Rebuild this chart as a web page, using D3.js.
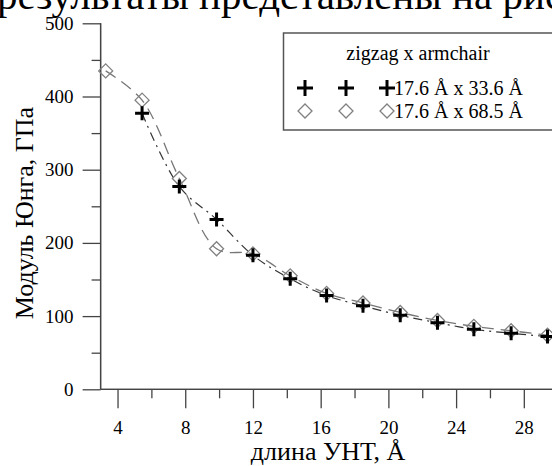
<!DOCTYPE html>
<html><head><meta charset="utf-8">
<script src="https://cdn.jsdelivr.net/npm/d3@7"></script>
<style>body{margin:0;background:#fff}svg{display:block}svg text{font-family:"Liberation Serif","Times New Roman",serif !important}</style>
</head><body><svg id="c" width="552" height="466"></svg>
<script>
const lengths = [3.3, 5.45, 7.65, 9.85, 12.0, 14.2, 16.35, 18.5, 20.7, 22.9, 25.05, 27.25, 29.4];
const seriesCross = [null, 377, 277, 232, 183, 151, 128, 114, 101, 91, 82, 76.5, 72];
const seriesDiamond = [435, 395, 288, 192, 185, 155, 131, 118, 105, 94, 86, 80, 74];
const seriesNames = ["17.6 Å x 33.6 Å", "17.6 Å x 68.5 Å"];
const legendTitle = "zigzag x armchair";
const xTicks = [4, 8, 12, 16, 20, 24, 28];
const xMinor = [6, 10, 14, 18, 22, 26, 30];
const yTicks = [0, 100, 200, 300, 400, 500];
const yMinor = [50, 150, 250, 350, 450];
const xTitle = "длина УНТ, Å";
const yTitle = "Модуль Юнга, ГПа";
const pageText = "результаты представлены на рис";

const FF = "'Liberation Serif', 'Times New Roman', serif";
const svg = d3.select("#c").style("font-family", FF);
const x = d3.scaleLinear().domain([3, 31]).range([100.6, 574.6]);
const y = d3.scaleLinear().domain([0, 500]).range([389.3, 23.3]);
const axisCol = "#444";

// page text (cropped, above the chart)
svg.append("text").attr("x", -3).attr("y", 8.5).attr("font-size", 41).attr("fill", "#000")
  .style("font-family", FF).text(pageText);

// y axis
const gy = svg.append("g").attr("transform", `translate(${x(3)},0)`);
gy.call(d3.axisLeft(y).tickValues(yTicks).tickSize(18).tickPadding(9).tickFormat(d3.format("d")));
gy.append("g").call(d3.axisLeft(y).tickValues(yMinor).tickSize(9).tickFormat(""));
gy.attr("font-family", null);
gy.selectAll("g").attr("font-family", null);
gy.selectAll(".domain").attr("stroke", axisCol).attr("stroke-width", 1.3).attr("d", `M0,${y(500)}V${y(0)}`);
gy.selectAll(".tick line").attr("stroke", axisCol).attr("stroke-width", 1.3);
gy.selectAll(".tick text").attr("font-size", 19).attr("fill", "#000").style("font-family", FF);

// x axis
const gx = svg.append("g").attr("transform", `translate(0,${y(0)})`);
gx.call(d3.axisBottom(x).tickValues(xTicks).tickSize(19).tickPadding(12).tickFormat(d3.format("d")));
gx.append("g").call(d3.axisBottom(x).tickValues(xMinor).tickSize(9).tickFormat(""));
gx.attr("font-family", null);
gx.selectAll("g").attr("font-family", null);
gx.selectAll(".domain").attr("stroke", axisCol).attr("stroke-width", 1.3).attr("d", `M${x(3)},0H${x(31)}`);
gx.selectAll(".tick line").attr("stroke", axisCol).attr("stroke-width", 1.3);
gx.selectAll(".tick text").attr("font-size", 19).attr("fill", "#000").style("font-family", FF);

// titles
svg.append("text").attr("x", 328).attr("y", 460).attr("text-anchor", "middle").attr("font-size", 26)
  .style("font-family", FF).text(xTitle);
svg.append("text").attr("transform", `translate(33,213) rotate(-90)`).attr("text-anchor", "middle").attr("font-size", 26)
  .style("font-family", FF).text(yTitle);

// lines
const mk = arr => lengths.map((l, i) => ({x: l, y: arr[i]})).filter(d => d.y != null);
const dCross = mk(seriesCross), dDiam = mk(seriesDiamond);
const line = d3.line().x(d => x(d.x)).y(d => y(d.y)).curve(d3.curveCatmullRom);
svg.append("path").attr("d", line(dDiam)).attr("fill", "none").attr("stroke", "#777").attr("stroke-width", 1.3).attr("stroke-dasharray", "12,7");
svg.append("path").attr("d", line(dCross)).attr("fill", "none").attr("stroke", "#333").attr("stroke-width", 1.2).attr("stroke-dasharray", "9,5,2,5");

// markers
const crossPath = s => `M${-s},0H${s}M0,${-s}V${s}`;
const diamPath = s => `M0,${-s}L${s},0L0,${s}L${-s},0Z`;
svg.append("g").selectAll("path").data(dDiam).join("path")
  .attr("transform", d => `translate(${x(d.x)},${y(d.y)})`).attr("d", diamPath(7))
  .attr("fill", "none").attr("stroke", "#808080").attr("stroke-width", 1.3);
svg.append("g").selectAll("path").data(dCross).join("path")
  .attr("transform", d => `translate(${x(d.x)},${y(d.y)})`).attr("d", crossPath(7))
  .attr("fill", "none").attr("stroke", "#000").attr("stroke-width", 3);

// legend
const lg = svg.append("g");
lg.append("rect").attr("x", 283.5).attr("y", 33).attr("width", 300).attr("height", 97)
  .attr("fill", "#fff").attr("stroke", "#555").attr("stroke-width", 1.5);
lg.append("text").attr("x", 418).attr("y", 60).attr("text-anchor", "middle").attr("font-size", 20)
  .style("font-family", FF).text(legendTitle);
const rows = [{name: seriesNames[0], type: "cross", cy: 88}, {name: seriesNames[1], type: "diam", cy: 111}];
const mx = [305, 346, 387];
rows.forEach(r => {
  mx.forEach(m => {
    if (r.type === "cross") lg.append("path").attr("transform", `translate(${m},${r.cy})`).attr("d", crossPath(8)).attr("stroke", "#000").attr("stroke-width", 3).attr("fill", "none");
    else lg.append("path").attr("transform", `translate(${m},${r.cy})`).attr("d", diamPath(7)).attr("stroke", "#808080").attr("stroke-width", 1.3).attr("fill", "none");
  });
  lg.append("text").attr("x", 394).attr("y", r.cy + 7).attr("font-size", 20).style("font-family", FF).text(r.name);
});
</script></body></html>
